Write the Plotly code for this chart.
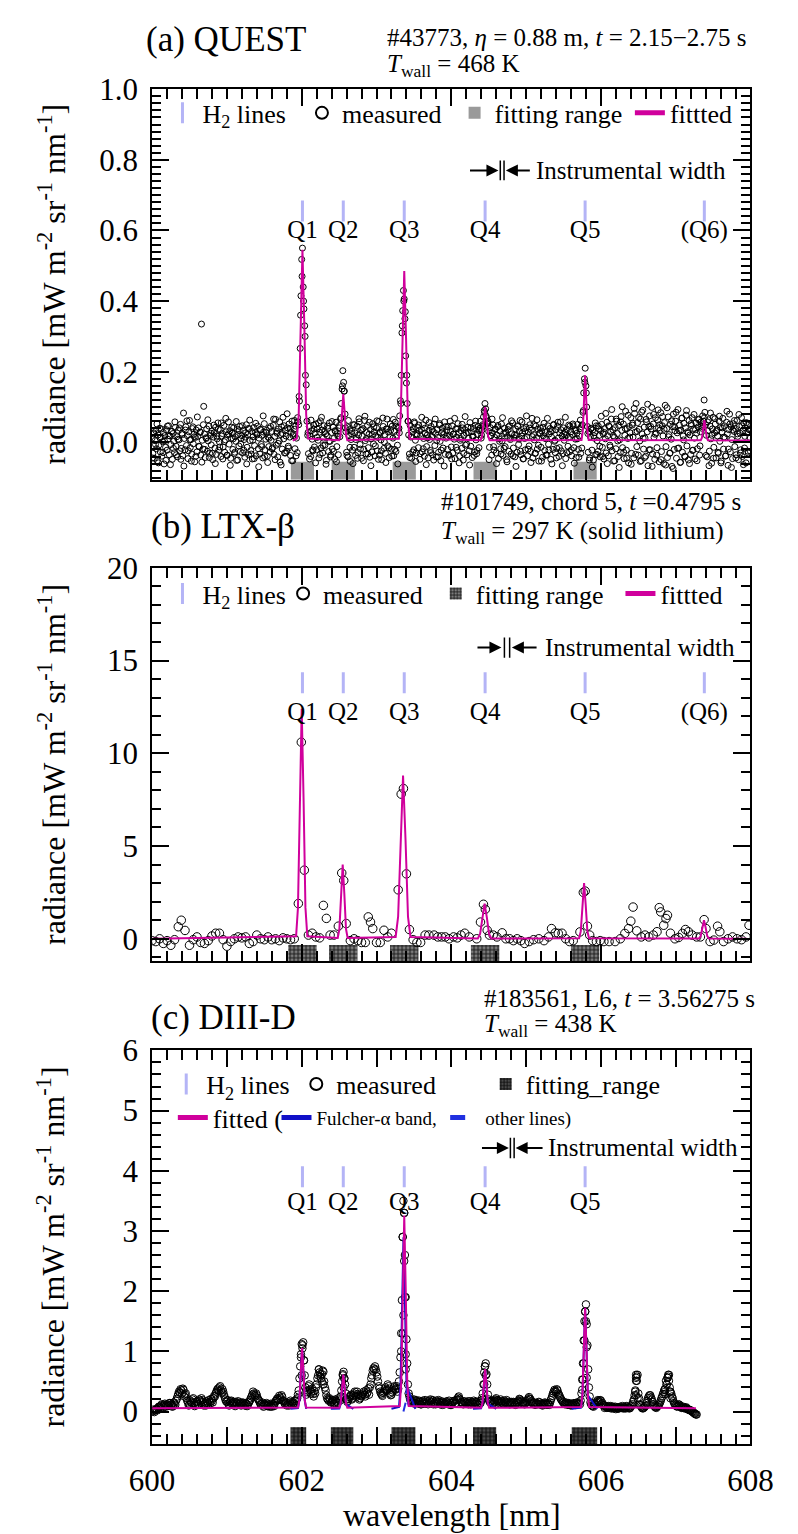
import plotly.graph_objects as go

FONT = "Liberation Serif"
W, H = 798, 1534
MAGENTA = "#d0009c"
H2BLUE = "#b4b4f6"
BLUE = "#1010c8"

def px(x):
    return x / W

def py(y):
    return 1 - y / H

# ---------------- shared data ----------------
q_pos = [602.01, 602.556, 603.371, 604.452, 605.789, 607.383]
q_text = ["Q1", "Q2", "Q3", "Q4", "Q5", "(Q6)"]

# ---------------- panel (a) QUEST ----------------
wl_a_start = 600.0
wl_a_step = 0.01
rad_a = [
 0.012,-0.031,0.024,-0.045,0.005,0.033,-0.018,-0.052,0.021,-0.008,0.040,-0.027,0.015,-0.039,0.002,0.028,-0.061,0.019,-0.014,0.036,
 -0.022,0.009,0.047,-0.035,0.018,-0.006,0.031,-0.048,0.025,0.003,-0.029,0.042,-0.011,0.016,-0.041,0.034,0.007,-0.024,0.051,-0.017,
 0.026,-0.038,0.083,0.011,-0.021,0.044,-0.009,0.019,-0.046,0.030,0.062,-0.015,0.008,-0.033,0.039,-0.004,0.023,-0.055,0.014,0.035,
 -0.027,0.017,0.041,-0.012,0.029,-0.036,0.335,0.006,-0.019,0.102,0.024,-0.043,0.013,0.038,-0.025,0.004,0.046,-0.031,0.020,-0.007,
 0.032,-0.049,0.015,0.027,-0.016,0.043,-0.034,0.010,0.055,-0.022,0.001,0.036,-0.040,0.018,0.025,-0.013,0.048,-0.028,0.007,0.030,
 -0.037,0.021,0.058,-0.005,0.033,-0.045,0.012,0.026,-0.020,0.041,-0.032,0.016,0.003,-0.051,0.037,0.022,-0.010,0.045,-0.026,0.011,
 0.019,-0.030,0.034,0.008,-0.042,0.027,0.050,-0.014,0.022,-0.035,0.039,0.005,-0.023,0.031,-0.047,0.016,0.042,-0.009,0.028,-0.038,
 0.024,0.046,-0.018,0.012,-0.033,0.037,-0.006,0.020,-0.044,0.029,0.053,-0.021,0.009,0.034,-0.039,0.015,-0.012,0.040,-0.027,0.006,
 0.031,-0.015,0.048,-0.034,0.017,0.065,-0.008,0.026,-0.041,0.038,0.004,-0.056,0.022,0.044,-0.019,0.071,0.010,-0.030,0.035,0.018,
 -0.025,0.041,-0.011,0.052,0.015,-0.037,0.028,0.060,-0.052,0.024,0.037,-0.018,0.046,0.012,-0.029,0.058,0.050,0.117,0.266,0.415,
 0.518,0.550,0.440,0.378,0.330,0.190,0.163,0.060,0.020,-0.032,0.045,0.018,-0.040,0.033,0.009,-0.024,0.049,-0.013,0.027,0.052,
 -0.021,0.038,0.006,-0.044,0.029,0.061,-0.016,0.035,-0.030,0.012,0.047,-0.008,0.024,-0.051,0.019,0.040,-0.026,0.055,0.003,-0.036,
 0.028,-0.019,0.043,0.011,-0.047,0.032,0.057,-0.012,0.025,-0.035,0.041,0.016,0.066,0.110,0.151,0.203,0.170,0.145,0.080,0.030,
 -0.028,0.044,-0.041,0.019,0.036,-0.054,0.008,0.031,-0.022,0.050,-0.014,0.027,-0.037,0.013,0.046,-0.029,0.021,0.058,-0.006,0.034,
 -0.045,0.017,0.039,-0.020,0.062,0.005,-0.033,0.028,0.048,-0.015,0.023,-0.042,0.036,0.010,-0.027,0.053,-0.004,0.030,-0.038,0.019,
 0.041,-0.024,0.014,0.059,-0.036,0.026,0.007,-0.049,0.033,0.045,-0.017,0.022,-0.031,0.038,0.066,-0.010,0.029,-0.043,0.016,0.035,
 -0.019,0.046,0.012,-0.038,0.031,0.057,-0.026,0.020,-0.008,0.043,0.040,0.075,0.118,0.190,0.310,0.373,0.430,0.406,0.350,0.245,
 0.168,0.110,0.060,0.021,-0.033,0.048,0.015,-0.045,0.029,0.039,-0.021,0.054,0.006,-0.030,0.024,0.042,-0.015,0.033,-0.048,0.018,
 0.037,-0.027,0.050,0.011,-0.039,0.026,0.063,-0.012,0.021,-0.044,0.034,0.008,-0.023,0.045,0.017,-0.035,0.030,0.052,-0.009,0.025,
 -0.041,0.036,0.014,-0.028,0.049,0.003,-0.052,0.027,0.040,-0.016,0.022,0.058,-0.034,0.012,0.035,-0.020,0.044,-0.037,0.019,0.031,
 -0.013,0.047,-0.030,0.024,0.009,-0.046,0.038,0.015,-0.022,0.053,0.028,-0.039,0.006,0.033,-0.017,0.041,-0.050,0.020,0.036,-0.008,
 0.026,-0.035,0.043,0.012,-0.024,0.056,-0.011,0.030,-0.043,0.018,0.039,-0.027,0.048,0.007,-0.032,0.023,0.045,-0.015,0.034,0.060,
 0.012,0.035,0.050,0.072,0.090,0.110,0.095,0.070,0.052,0.060,0.031,-0.014,0.042,0.019,-0.036,0.027,0.049,-0.022,0.014,0.038,
 -0.030,0.021,0.044,-0.046,0.010,0.032,-0.018,0.052,0.004,-0.037,0.025,0.040,-0.012,0.029,-0.049,0.017,0.036,-0.025,0.047,0.008,
 -0.033,0.024,0.055,-0.016,0.013,-0.041,0.038,0.020,-0.028,0.045,-0.006,0.031,0.062,-0.035,0.018,0.027,-0.047,0.039,0.011,-0.021,
 0.043,0.016,-0.038,0.029,-0.010,0.050,-0.026,0.034,0.068,-0.044,0.022,0.007,-0.031,0.046,0.013,-0.019,0.037,-0.053,0.025,0.041,
 -0.014,0.032,-0.042,0.019,0.054,-0.023,0.028,0.010,-0.036,0.047,-0.005,0.024,0.039,-0.048,0.015,0.033,-0.020,0.051,0.003,-0.029,
 0.036,-0.017,0.045,0.012,-0.040,0.027,0.058,-0.024,0.018,-0.032,0.041,0.006,0.029,-0.046,0.021,0.037,-0.011,0.049,-0.027,0.015,
 0.030,-0.038,0.022,0.047,-0.015,0.034,0.009,-0.043,0.026,0.051,-0.020,0.018,0.039,-0.031,0.044,0.050,0.085,0.140,0.180,0.210,
 0.160,0.100,0.045,-0.028,0.030,-0.044,0.016,0.040,-0.022,0.035,-0.050,0.012,0.028,-0.035,0.047,0.005,-0.026,0.038,0.020,-0.041,
 0.033,0.051,-0.014,0.024,-0.047,0.039,0.010,-0.030,0.057,0.019,-0.038,0.045,-0.008,0.029,0.066,-0.024,0.036,-0.053,0.014,0.042,
 -0.018,0.060,0.025,-0.040,0.048,0.007,-0.029,0.073,0.034,-0.015,0.052,-0.046,0.020,0.088,-0.022,0.039,0.011,-0.058,0.045,0.027,
 0.070,-0.031,0.049,0.015,-0.044,0.082,0.029,0.110,-0.012,0.056,-0.036,0.037,0.004,0.066,-0.052,0.024,0.091,-0.019,0.043,0.012,
 -0.039,0.058,0.030,-0.066,0.045,0.075,-0.021,0.038,0.099,-0.033,0.052,0.014,-0.048,0.070,0.026,-0.015,0.063,0.041,-0.055,0.034,
 0.084,-0.026,0.047,0.018,-0.060,0.056,0.105,-0.012,0.039,-0.043,0.072,0.022,-0.031,0.051,0.009,-0.068,0.044,0.080,-0.020,0.033,
 0.060,-0.045,0.027,0.093,-0.016,0.049,-0.057,0.035,0.068,-0.028,0.018,0.054,-0.039,0.041,0.077,-0.010,0.030,-0.050,0.062,0.021,
 -0.034,0.048,0.070,-0.022,0.037,0.012,-0.047,0.055,0.026,-0.018,0.044,0.066,-0.036,0.030,0.058,0.040,0.075,0.060,0.120,0.085,
 0.050,0.020,-0.041,0.033,0.064,-0.025,0.046,0.010,-0.059,0.038,0.071,-0.014,0.027,0.052,-0.044,0.035,0.018,-0.031,0.060,0.003,
 0.042,-0.053,0.029,0.068,-0.019,0.047,0.013,-0.038,0.057,0.024,-0.065,0.036,0.080,-0.027,0.044,0.008,-0.046,0.053,0.031,-0.012,
 0.039,-0.035,0.062,0.017,-0.049,0.045,0.026,-0.021,0.070,-0.040,0.033,0.055,-0.016,0.041,-0.058,0.028,0.049,-0.030,0.036,0.014,
 -0.026,
]
# second exposure, sampled between the first one
wl_a2_start = 600.005
wl_a2_step = 0.02
rad_a2 = [
 -0.044,0.027,-0.006,0.052,-0.058,0.013,0.038,-0.029,0.004,-0.051,0.046,0.019,-0.063,0.031,-0.017,0.058,-0.035,0.009,0.041,-0.048,
 0.022,-0.067,0.035,0.061,-0.024,0.007,-0.053,0.044,0.016,-0.039,0.072,-0.011,0.029,-0.056,0.050,-0.020,0.011,0.064,-0.043,0.026,
 -0.031,0.049,-0.060,0.018,0.037,-0.013,0.055,-0.047,0.002,0.068,-0.036,0.024,-0.065,0.043,0.010,-0.028,0.059,-0.050,0.033,-0.004,
 0.047,-0.022,0.015,-0.061,0.039,0.063,-0.033,0.006,-0.046,0.054,0.021,-0.069,0.036,-0.012,0.075,-0.040,0.028,-0.057,0.012,0.045,
 -0.018,0.066,-0.049,0.031,-0.003,0.058,-0.064,0.025,0.047,-0.030,0.081,-0.016,0.040,-0.052,0.019,0.062,-0.038,0.070,0.130,0.360,
 0.470,0.400,0.300,0.100,0.028,-0.047,0.063,-0.021,0.038,-0.058,0.014,0.055,-0.034,0.071,-0.009,0.030,-0.062,0.046,0.003,-0.041,
 0.059,-0.026,0.033,-0.055,0.017,0.048,0.070,0.160,0.145,0.041,-0.037,0.062,-0.014,0.025,-0.060,0.050,0.008,-0.045,0.067,-0.019,
 0.036,-0.052,0.074,0.011,-0.033,0.057,-0.066,0.022,0.044,-0.010,0.061,-0.048,0.029,-0.024,0.069,0.001,-0.057,0.038,-0.015,0.052,
 -0.039,0.065,-0.020,0.046,-0.061,0.027,0.110,0.330,0.400,0.370,0.190,0.060,-0.043,0.034,-0.027,0.058,-0.054,0.020,0.049,-0.032,
 0.071,-0.018,0.040,-0.063,0.013,0.056,-0.029,0.036,-0.050,0.066,0.005,-0.041,0.053,-0.022,0.030,-0.067,0.045,0.017,-0.035,0.060,
 -0.047,0.023,0.068,-0.014,0.039,-0.058,0.011,0.051,-0.031,0.073,-0.005,0.028,-0.064,0.042,0.015,-0.037,0.060,-0.023,0.034,0.040,
 0.020,0.045,0.085,0.075,0.055,-0.049,0.019,0.066,-0.012,0.037,-0.060,0.048,0.003,-0.033,0.070,-0.017,0.026,-0.055,0.044,0.012,
 0.061,-0.038,0.021,-0.068,0.047,0.009,-0.025,0.058,-0.046,0.032,0.075,-0.019,0.040,-0.057,0.016,0.050,-0.031,0.064,-0.008,0.027,
 -0.053,0.043,0.012,-0.036,0.068,-0.022,0.030,-0.061,0.049,0.006,-0.044,0.057,-0.015,0.036,-0.066,0.024,0.071,-0.029,0.013,0.046,
 -0.021,0.052,-0.059,0.034,0.010,-0.042,0.063,-0.016,0.090,0.170,0.140,0.025,-0.050,0.038,-0.070,0.019,0.055,-0.034,0.046,-0.011,
 0.074,-0.040,0.028,0.082,-0.060,0.047,-0.013,0.093,0.019,-0.052,0.066,0.004,-0.071,0.058,0.101,-0.028,0.039,-0.045,0.077,0.015,
 -0.062,0.054,0.096,-0.034,0.031,0.070,-0.054,0.086,0.012,-0.043,0.065,0.108,-0.021,0.045,-0.068,0.079,0.023,-0.036,0.092,0.050,
 -0.049,0.073,0.037,-0.064,0.098,0.016,-0.030,0.061,-0.074,0.044,0.085,-0.017,0.033,-0.056,0.069,0.007,-0.041,0.090,0.026,-0.060,
 0.053,-0.023,0.079,0.036,-0.052,0.064,-0.010,0.046,0.050,0.070,-0.037,0.058,-0.066,0.083,0.020,-0.045,0.067,0.031,-0.028,0.074,
 -0.058,0.041,0.015,-0.039,0.088,-0.019,0.052,-0.071,0.035,0.062,-0.044,0.024,0.079,-0.030,0.047,-0.063,0.017,0.056,-0.025,0.038,
]
fit_a_x = [601.88,
 601.935, 601.96, 601.985, 602.01, 602.035, 602.06, 602.085,
 602.502, 602.52, 602.538, 602.556, 602.574, 602.592, 602.61,
 603.299, 603.323, 603.347, 603.371, 603.395, 603.419, 603.443,
 604.392, 604.412, 604.432, 604.452, 604.472, 604.492, 604.512,
 605.741, 605.757, 605.773, 605.789, 605.805, 605.821, 605.837,
 607.335, 607.351, 607.367, 607.383, 607.399, 607.415, 607.431,
 608.0]
fit_a_y = [0.005,
 0.011, 0.078, 0.333, 0.545, 0.333, 0.078, 0.011,
 0.006, 0.023, 0.085, 0.137, 0.085, 0.023, 0.006,
 0.010, 0.070, 0.296, 0.485, 0.296, 0.070, 0.010,
 0.006, 0.018, 0.063, 0.100, 0.063, 0.018, 0.006,
 0.007, 0.030, 0.117, 0.190, 0.117, 0.030, 0.007,
 0.006, 0.013, 0.040, 0.063, 0.040, 0.013, 0.006,
 0.005]
range_a_lo = [601.855, 602.401, 603.216, 604.297, 605.634]
range_a_hi = [602.165, 602.711, 603.526, 604.607, 605.944]

# ---------------- panel (b) LTX-beta ----------------
rad_b_x = [600.00,600.05,600.10,600.15,600.20,600.25,600.30,600.35,600.39,600.44,
 600.50,600.55,600.60,600.65,600.70,600.75,600.80,600.85,600.90,600.95,
 601.00,601.05,601.10,601.15,601.20,601.25,601.30,601.35,601.40,601.45,
 601.50,601.55,601.60,601.65,601.70,601.75,601.80,601.85,601.90,601.955,
 601.995,602.035,602.09,602.14,602.19,602.24,602.29,602.33,602.38,602.43,
 602.49,602.535,602.562,602.595,602.65,602.70,602.75,602.80,602.85,602.89,
 602.92,602.95,603.00,603.05,603.10,603.15,603.20,603.29,603.33,603.36,
 603.40,603.44,603.49,603.54,603.59,603.65,603.70,603.77,603.82,603.87,
 603.92,603.97,604.03,604.08,604.13,604.18,604.24,604.34,604.39,604.43,
 604.455,604.48,604.51,604.56,604.61,604.68,604.73,604.78,604.83,604.88,
 604.93,604.98,605.04,605.10,605.17,605.24,605.30,605.34,605.39,605.43,
 605.48,605.53,605.58,605.63,605.72,605.765,605.79,605.82,605.85,605.89,
 605.94,605.99,606.04,606.11,606.19,606.26,606.32,606.37,606.40,606.43,
 606.48,606.54,606.59,606.64,606.70,606.75,606.78,606.80,606.84,606.87,
 606.89,606.93,606.99,607.04,607.09,607.13,607.17,607.22,607.28,607.33,
 607.38,607.405,607.46,607.51,607.56,607.59,607.64,607.70,607.76,607.82,
 607.88,607.94,607.98]
rad_b_y = [-0.10,-0.15,0.00,-0.25,-0.10,-0.35,-0.05,0.65,1.00,0.45,
 -0.35,-0.05,0.10,-0.20,-0.25,-0.10,0.15,0.30,0.30,-0.05,
 -0.40,-0.15,0.00,0.10,0.05,0.10,-0.25,-0.15,0.20,0.00,
 -0.05,0.10,-0.05,0.00,-0.10,0.05,0.00,-0.05,0.00,1.90,
 10.60,3.70,0.20,0.30,0.10,0.05,1.80,1.10,0.20,0.20,
 0.68,3.55,3.14,0.82,-0.10,0.00,-0.10,-0.20,-0.20,1.18,
 0.90,0.55,-0.20,-0.20,0.46,0.10,0.30,2.64,7.80,8.10,
 3.50,0.50,-0.05,-0.20,-0.20,0.20,0.20,0.20,0.10,0.10,
 0.10,0.00,0.10,0.05,0.20,0.30,0.10,0.00,0.90,1.86,
 1.59,0.46,0.20,0.20,0.10,0.32,0.00,0.00,-0.10,0.00,
 -0.10,-0.25,-0.15,-0.05,0.00,-0.10,0.10,0.55,0.32,0.29,
 0.30,0.00,-0.15,-0.10,0.37,2.50,2.57,0.68,0.20,-0.10,
 -0.15,-0.10,-0.15,-0.15,-0.15,0.00,0.29,0.55,0.95,1.71,
 0.43,0.10,0.20,0.10,0.20,0.38,1.68,1.45,0.73,1.09,
 1.27,0.30,0.00,0.07,0.29,0.50,0.38,0.20,0.10,0.10,
 1.03,0.55,-0.15,-0.07,0.68,0.38,-0.15,0.00,0.10,0.00,
 -0.05,0.10,0.73]
fit_b_x = [600.0,
 601.925, 601.95, 601.975, 602.0, 602.025, 602.05, 602.075,
 602.482, 602.504, 602.526, 602.548, 602.570, 602.592, 602.614,
 603.256, 603.289, 603.322, 603.355, 603.388, 603.421, 603.454,
 604.355, 604.385, 604.415, 604.445, 604.475, 604.505, 604.535,
 605.709, 605.731, 605.753, 605.775, 605.797, 605.819, 605.841,
 607.312, 607.334, 607.356, 607.378, 607.400, 607.422, 607.444,
 607.95]
fit_b_y = [0.0,
 0.14, 1.68, 7.52, 12.4, 7.52, 1.68, 0.14,
 0.04, 0.54, 2.43, 4.0, 2.43, 0.54, 0.04,
 0.10, 1.19, 5.34, 8.8, 5.34, 1.19, 0.10,
 0.02, 0.26, 1.15, 1.9, 1.15, 0.26, 0.02,
 0.03, 0.41, 1.82, 3.0, 1.82, 0.41, 0.03,
 0.01, 0.14, 0.61, 1.0, 0.61, 0.14, 0.01,
 0.0]
range_b_lo = [601.82, 602.366, 603.181, 604.262, 605.599]
range_b_hi = [602.20, 602.746, 603.561, 604.642, 605.979]

# ---------------- panel (c) DIII-D ----------------
wl_c_start = 600.0
wl_c_step = 0.02
rad_c = [
 0.00,0.01,0.02,0.04,0.06,0.08,0.10,0.09,0.11,0.08,0.12,0.10,0.14,0.12,0.09,0.13,0.18,0.25,0.33,0.37,
 0.30,0.36,0.28,0.22,0.15,0.12,0.16,0.20,0.14,0.11,0.17,0.13,0.18,0.22,0.16,0.12,0.10,0.15,0.19,0.14,
 0.18,0.22,0.25,0.33,0.38,0.40,0.35,0.37,0.28,0.20,0.16,0.13,0.15,0.18,0.14,0.12,0.16,0.13,0.11,0.15,
 0.12,0.14,0.10,0.13,0.11,0.16,0.22,0.28,0.30,0.25,0.27,0.20,0.15,0.12,0.10,0.13,0.11,0.09,0.12,0.10,
 0.08,0.11,0.14,0.18,0.22,0.26,0.20,0.24,0.17,0.12,0.10,0.13,0.15,0.12,0.16,0.14,0.18,0.22,0.35,0.75,
 1.12,1.15,0.60,0.28,0.35,0.45,0.30,0.38,0.25,0.30,0.45,0.60,0.65,0.55,0.68,0.50,0.35,0.22,0.18,0.20,
 0.16,0.19,0.14,0.17,0.15,0.20,0.25,0.50,0.66,0.45,0.20,0.18,0.24,0.28,0.22,0.30,0.26,0.33,0.27,0.22,
 0.25,0.30,0.28,0.35,0.32,0.28,0.45,0.60,0.72,0.75,0.65,0.50,0.38,0.30,0.26,0.33,0.40,0.36,0.42,0.30,
 0.28,0.35,0.42,0.38,0.33,0.50,0.90,1.85,3.50,2.60,1.20,0.45,0.25,0.18,0.15,0.20,0.14,0.17,0.13,0.16,
 0.12,0.18,0.15,0.13,0.17,0.14,0.20,0.16,0.12,0.15,0.18,0.13,0.16,0.14,0.11,0.15,0.13,0.17,0.12,0.14,
 0.11,0.15,0.18,0.14,0.20,0.25,0.19,0.15,0.12,0.16,0.13,0.17,0.14,0.12,0.15,0.18,0.13,0.16,0.12,0.15,
 0.18,0.30,0.65,0.80,0.45,0.20,0.15,0.18,0.13,0.16,0.22,0.18,0.14,0.20,0.17,0.13,0.15,0.19,0.14,0.12,
 0.16,0.13,0.15,0.11,0.14,0.18,0.20,0.16,0.13,0.12,0.15,0.19,0.24,0.20,0.15,0.13,0.11,0.14,0.12,0.15,
 0.13,0.10,0.12,0.14,0.11,0.13,0.15,0.22,0.30,0.36,0.32,0.35,0.28,0.22,0.18,0.15,0.12,0.14,0.11,0.13,
 0.10,0.12,0.14,0.11,0.15,0.13,0.12,0.30,0.80,1.50,1.78,1.10,0.40,0.15,0.10,0.08,0.11,0.15,0.19,0.17,
 0.18,0.14,0.10,0.08,0.06,0.09,0.07,0.05,0.08,0.06,0.04,0.07,0.05,0.08,0.06,0.05,0.07,0.09,0.06,0.05,
 0.08,0.12,0.20,0.35,0.58,0.30,0.12,0.08,0.05,0.07,0.10,0.18,0.25,0.27,0.20,0.12,0.08,0.06,0.09,0.12,
 0.18,0.25,0.32,0.38,0.45,0.58,0.40,0.30,0.22,0.14,0.10,0.08,0.12,0.09,0.06,0.08,0.05,0.07,0.04,0.03,
 0.02,0.00,-0.02,-0.04,-0.05,
]
wl_c2_start = 600.01
wl_c2_step = 0.02
rad_c2 = [
 0.03,-0.01,0.04,0.02,0.08,0.05,0.12,0.07,0.13,0.10,0.09,0.14,0.11,0.08,0.15,0.11,0.21,0.29,0.31,0.35,
 0.38,0.25,0.30,0.18,0.10,0.18,0.14,0.22,0.09,0.16,0.12,0.20,0.15,0.19,0.10,0.14,0.17,0.12,0.16,0.21,
 0.15,0.26,0.30,0.36,0.34,0.42,0.31,0.33,0.24,0.17,0.19,0.10,0.17,0.13,0.16,0.09,0.14,0.17,0.13,0.10,
 0.15,0.11,0.14,0.09,0.15,0.19,0.25,0.33,0.27,0.30,0.22,0.18,0.12,0.15,0.08,0.12,0.14,0.10,0.08,0.13,
 0.12,0.09,0.17,0.21,0.19,0.23,0.27,0.18,0.14,0.15,0.12,0.10,0.18,0.14,0.13,0.17,0.20,0.28,0.55,0.95,
 1.05,0.85,0.40,0.32,0.42,0.36,0.33,0.29,0.34,0.40,0.55,0.70,0.58,0.62,0.45,0.40,0.27,0.20,0.22,0.15,
 0.18,0.13,0.20,0.14,0.22,0.18,0.35,0.62,0.55,0.30,0.16,0.21,0.26,0.20,0.27,0.33,0.24,0.29,0.20,0.26,
 0.28,0.33,0.25,0.30,0.38,0.40,0.55,0.68,0.70,0.70,0.58,0.42,0.33,0.28,0.31,0.37,0.34,0.45,0.38,0.27,
 0.32,0.40,0.36,0.42,0.38,0.65,1.30,2.90,3.30,1.90,0.80,0.30,0.20,0.16,0.18,0.13,0.19,0.15,0.18,0.12,
 0.16,0.13,0.19,0.15,0.12,0.18,0.15,0.19,0.14,0.12,0.16,0.19,0.12,0.17,0.15,0.12,0.16,0.14,0.18,0.11,
 0.14,0.17,0.13,0.19,0.23,0.21,0.16,0.13,0.17,0.14,0.15,0.12,0.17,0.15,0.13,0.16,0.15,0.12,0.17,0.14,
 0.22,0.45,0.75,0.62,0.28,0.17,0.16,0.14,0.18,0.20,0.19,0.16,0.17,0.15,0.14,0.18,0.16,0.13,0.16,0.14,
 0.14,0.16,0.12,0.15,0.16,0.21,0.18,0.14,0.15,0.14,0.17,0.22,0.21,0.17,0.13,0.15,0.12,0.13,0.16,0.12,
 0.11,0.13,0.15,0.12,0.14,0.11,0.19,0.26,0.33,0.34,0.37,0.30,0.25,0.20,0.16,0.13,0.15,0.12,0.14,0.11,
 0.13,0.11,0.12,0.14,0.12,0.15,0.18,0.53,1.18,1.66,1.45,0.70,0.25,0.12,0.09,0.12,0.13,0.17,0.16,0.19,
 0.12,0.11,0.06,0.09,0.07,0.06,0.09,0.07,0.05,0.08,0.06,0.05,0.07,0.06,0.09,0.06,0.05,0.08,0.07,0.06,
 0.10,0.16,0.27,0.51,0.61,0.22,0.10,0.06,0.06,0.09,0.14,0.22,0.27,0.23,0.16,0.10,0.07,0.08,0.11,0.15,
 0.22,0.29,0.36,0.51,0.56,0.61,0.33,0.25,0.17,0.12,0.09,0.10,0.11,0.07,0.07,0.06,0.06,0.05,0.03,0.02,
 0.01,-0.01,-0.03,-0.05,
]
# additional frames around the strong lines
rad_c_extra_x = [601.99, 602.01, 602.03, 602.00, 602.23, 602.25, 602.27, 602.29,
 602.55, 602.57, 602.56, 603.35, 603.37, 603.37, 603.36, 603.38, 603.35, 603.39, 603.33, 603.39,
 604.45, 604.46, 604.44, 605.79, 605.80, 605.78, 605.81, 605.77, 605.76, 605.81, 605.75,
 606.47, 606.47, 606.48, 606.46, 606.47, 606.49, 606.90, 606.89, 606.91, 606.88, 606.85, 606.86, 606.92, 606.93]
rad_c_extra_y = [0.90, 1.10, 0.85, 0.60, 0.70, 0.62, 0.50, 0.66,
 0.60, 0.55, 0.40, 2.90, 3.30, 2.50, 1.60, 1.90, 1.30, 0.95, 1.00, 0.70,
 0.75, 0.60, 0.45, 1.66, 1.50, 1.18, 1.07, 0.80, 0.53, 0.56, 0.36,
 0.61, 0.56, 0.51, 0.33, 0.27, 0.22, 0.61, 0.56, 0.51, 0.45, 0.36, 0.29, 0.33, 0.22]
fit_c_x = [600.0,
 601.951, 601.969, 601.987, 602.005, 602.023, 602.041, 602.059,
 602.502, 602.520, 602.538, 602.556, 602.574, 602.592, 602.610,
 603.311, 603.331, 603.351, 603.371, 603.391, 603.411, 603.431,
 604.398, 604.416, 604.434, 604.452, 604.470, 604.488, 604.506,
 605.735, 605.753, 605.771, 605.789, 605.807, 605.825, 605.843,
 607.27]
fit_c_y = [0.055,
 0.066, 0.190, 0.662, 1.055, 0.662, 0.190, 0.066,
 0.061, 0.131, 0.395, 0.615, 0.395, 0.131, 0.061,
 0.090, 0.487, 1.997, 3.255, 1.997, 0.487, 0.090,
 0.062, 0.143, 0.450, 0.705, 0.450, 0.143, 0.062,
 0.073, 0.280, 1.069, 1.725, 1.069, 0.280, 0.073,
 0.055]
# Fulcher-alpha component, drawn over each fitting range only (None = gap)
fulcher_c_x = [601.85, 601.951, 601.969, 601.987, 602.005, 602.023, 602.041, 602.06, None,
 602.39, 602.502, 602.520, 602.538, 602.556, 602.574, 602.592, 602.69, None,
 603.20, 603.301, 603.321, 603.341, 603.361, 603.381, 603.401, 603.52, None,
 604.29, 604.398, 604.416, 604.434, 604.452, 604.470, 604.488, 604.60, None,
 605.61, 605.735, 605.753, 605.771, 605.789, 605.807, 605.825, 605.95]
fulcher_c_y = [0.045, 0.056, 0.180, 0.652, 1.045, 0.652, 0.180, 0.045, None,
 0.045, 0.051, 0.121, 0.385, 0.605, 0.385, 0.121, 0.045, None,
 0.045, 0.076, 0.430, 1.775, 2.895, 1.775, 0.430, 0.045, None,
 0.045, 0.052, 0.133, 0.440, 0.695, 0.440, 0.133, 0.045, None,
 0.045, 0.063, 0.270, 1.059, 1.715, 1.059, 0.270, 0.045]
other_c_x = [603.36, 603.39, 603.405, 603.42, 603.45]
other_c_y = [0.0, 0.15, 0.42, 0.15, 0.0]
range_c_lo = [601.85, 602.39, 603.20, 604.29, 605.61]
range_c_hi = [602.06, 602.69, 603.52, 604.60, 605.95]

# x tick levels
x_tick_1nm = list(range(600, 609))
x_tick_2nm = list(range(600, 609, 2))

# ---------------- figure ----------------
fig = go.Figure()

XDOM = [px(137), px(772)]
panels = [
    dict(ax="", ox="4", yr=[-0.106, 1.0], dom=[py(468), py(73)], dtick=0.2, minor=0.02, fmt=".1f",
         rbot=-0.106, rtop=-0.055, rcol="#9a9a9a", pat=None,
         ymark=0.655, ylab=0.597, nq=6),
    dict(ax="2", ox="5", yr=[-1.22, 20], dom=[py(955), py(557)], dtick=5, minor=1, fmt="d",
         rbot=-1.22, rtop=-0.34, rcol="#7c7c7c", pat="#1c1c1c",
         ymark=13.8, ylab=12.15, nq=6),
    dict(ax="3", ox="6", yr=[-0.54, 6], dom=[py(1443), py(1045)], dtick=1, minor=0.2, fmt="d",
         rbot=-0.54, rtop=-0.26, rcol="#4a4a4a", pat="#0c0c0c",
         ymark=3.9, ylab=3.45, nq=5),
]

def leg(i):
    return "legend" if i == 1 else "legend%d" % i

meas = [
    ([wl_a_start + wl_a_step * i for i in range(len(rad_a))]
     + [wl_a2_start + wl_a2_step * i for i in range(len(rad_a2))], rad_a + rad_a2, 6),
    (rad_b_x, rad_b_y, 8.5),
    ([wl_c_start + wl_c_step * i for i in range(len(rad_c))]
     + [wl_c2_start + wl_c2_step * i for i in range(len(rad_c2))] + rad_c_extra_x,
     rad_c + rad_c2 + rad_c_extra_y, 7.5),
]
fits = [(fit_a_x, fit_a_y), (fit_b_x, fit_b_y), (fit_c_x, fit_c_y)]
ranges = [(range_a_lo, range_a_hi), (range_b_lo, range_b_hi), (range_c_lo, range_c_hi)]
names = [
    ["H<sub>2</sub> lines", "measured", "fitting range", "fittted"],
    ["H<sub>2</sub> lines", "measured", "fitting range", "fittted"],
    ["H<sub>2</sub> lines", "measured", "fitting_range", "fitted ("],
]
leg_ids = [[1, 2, 3, 4], [5, 6, 7, 8], [9, 10, 11, 12]]

for k, p in enumerate(panels):
    xa = "x" + p["ax"]
    ya = "y" + p["ax"]
    lo, hi = ranges[k]
    cen = [(a + b) / 2 for a, b in zip(lo, hi)]
    wid = [b - a for a, b in zip(lo, hi)]
    mk = dict(color=p["rcol"], line=dict(width=0))
    if p["pat"]:
        mk["pattern"] = dict(shape="+", size=4, solidity=0.45, fgcolor=p["pat"],
                             bgcolor=p["rcol"], fillmode="replace")
    fig.add_trace(go.Bar(x=cen, y=[p["rtop"] - p["rbot"]] * len(cen), base=[p["rbot"]] * len(cen),
                         width=wid, marker=mk, name=names[k][2], legend=leg(leg_ids[k][2]),
                         xaxis=xa, yaxis=ya, hoverinfo="skip"))
    mx, my, ms = meas[k]
    fig.add_trace(go.Scatter(x=mx, y=my, mode="markers",
                             marker=dict(symbol="circle-open", size=ms, color="black",
                                         line=dict(width=1, color="black")),
                             name=names[k][1], legend=leg(leg_ids[k][1]), xaxis=xa, yaxis=ya))
    if k == 2:
        fig.add_trace(go.Scatter(x=fulcher_c_x, y=fulcher_c_y, mode="lines",
                                 line=dict(color=BLUE, width=2), connectgaps=False,
                                 name="<span style='font-size:19px'>Fulcher-α band,</span>",
                                 legend=leg(13), xaxis=xa, yaxis=ya))
        fig.add_trace(go.Scatter(x=other_c_x, y=other_c_y, mode="lines",
                                 line=dict(color="#2030e0", width=2, dash="dash"),
                                 name="<span style='font-size:19px'>other lines)</span>",
                                 legend=leg(14), xaxis=xa, yaxis=ya))
    fx, fy = fits[k]
    fig.add_trace(go.Scatter(x=fx, y=fy, mode="lines", line=dict(color=MAGENTA, width=2),
                             name=names[k][3], legend=leg(leg_ids[k][3]), xaxis=xa, yaxis=ya))
    nq = p["nq"]
    fig.add_trace(go.Scatter(x=q_pos[:nq], y=[p["ymark"]] * nq, mode="markers",
                             marker=dict(symbol="line-ns", size=15,
                                         line=dict(width=3, color=H2BLUE)),
                             name=names[k][0], legend=leg(leg_ids[k][0]), xaxis=xa, yaxis=ya))
    fig.add_trace(go.Scatter(x=q_pos[:nq], y=[p["ylab"]] * nq, mode="text", text=q_text[:nq],
                             textfont=dict(family=FONT, size=25, color="black"),
                             showlegend=False, xaxis=xa, yaxis=ya, hoverinfo="skip"))

axis_common = dict(showline=True, linecolor="black", linewidth=2, mirror="allticks",
                   ticks="inside", tickcolor="black", showgrid=False, zeroline=False)
layout = dict(width=W, height=H, margin=dict(l=0, r=0, t=0, b=0),
              paper_bgcolor="white", plot_bgcolor="white", showlegend=True,
              font=dict(family=FONT, color="black"))
for k, p in enumerate(panels):
    xa = "xaxis" + p["ax"]
    ya = "yaxis" + p["ax"]
    layout[xa] = dict(axis_common, domain=XDOM, range=[600, 608], anchor="y" + p["ax"],
                      tickmode="array", tickvals=x_tick_1nm,
                      ticktext=["600", "", "602", "", "604", "", "606", "", "608"],
                      ticklen=17, tickwidth=2, showticklabels=(k == 2),
                      tickfont=dict(family=FONT, size=31), ticklabelstandoff=8,
                      minor=dict(dtick=0.2, tick0=600, ticks="inside", ticklen=10,
                                 tickwidth=1.5, tickcolor="black"))
    # overlay axis carrying the longer 2-nm ticks
    layout["xaxis" + p["ox"]] = dict(domain=XDOM, range=[600, 608], anchor="y" + p["ax"],
                                     overlaying="x" + p["ax"], side="bottom",
                                     tickmode="array", tickvals=x_tick_2nm, ticks="inside",
                                     ticklen=24, tickwidth=2, tickcolor="black", mirror="allticks",
                                     showline=False, showticklabels=False, showgrid=False,
                                     zeroline=False)
    layout[ya] = dict(axis_common, domain=p["dom"], range=p["yr"], anchor="x" + p["ax"],
                      tick0=0, dtick=p["dtick"], ticklen=17, tickwidth=2,
                      tickformat=p["fmt"], tickfont=dict(family=FONT, size=31),
                      ticklabelstandoff=6,
                      minor=dict(dtick=p["minor"], tick0=0, ticks="inside", ticklen=9,
                                 tickwidth=1.5, tickcolor="black"))

# legends, one per entry: (id, text start px, row centre px, font size, itemsizing)
leg_pos = [
    (1, 188, 97, 26, "trace"), (2, 336, 97, 26, "constant"), (3, 498, 97, 26, "constant"), (4, 684, 97, 26, "constant"),
    (5, 188, 583, 26, "trace"), (6, 316, 583, 26, "constant"), (7, 478, 583, 26, "constant"), (8, 674, 583, 26, "constant"),
    (9, 192, 1079, 26, "trace"), (10, 330, 1079, 26, "constant"), (11, 531, 1079, 26, "constant"),
    (12, 199, 1113, 26, "constant"), (13, 309, 1113, 19, "constant"), (14, 488, 1113, 19, "constant"),
]
for lid, xs, yc, fs, isz in leg_pos:
    layout[leg(lid)] = dict(x=px(xs - 40), y=py(yc), xanchor="left", yanchor="middle",
                            orientation="h", bgcolor="rgba(0,0,0,0)", borderwidth=0,
                            font=dict(family=FONT, size=fs, color="black"),
                            itemsizing=isz, itemwidth=30, tracegroupgap=0)

fig.update_layout(**layout)

ann = []
shapes = []
# titles and shot information (one annotation per text line)
titles = [("(a) QUEST", 128, 23), ("(b) LTX-β", 134, 515), ("(c) DIII-D", 134, 1012)]
for t, xx, yy in titles:
    ann.append(dict(text=t, x=px(xx), y=py(yy), xref="paper", yref="paper", xanchor="left",
                    yanchor="middle", showarrow=False, font=dict(family=FONT, size=35)))
infos = [
    ("#43773, <i>η</i> = 0.88 m, <i>t</i> = 2.15−2.75 s", 384, 21),
    ("<i>T</i><sub>wall</sub> = 468 K", 384, 49),
    ("#101749, chord 5, <i>t</i> =0.4795 s", 441, 490),
    ("<i>T</i><sub>wall</sub> = 297 K (solid lithium)", 441, 521),
    ("#183561, L6, <i>t</i> = 3.56275 s", 487, 992),
    ("<i>T</i><sub>wall</sub> = 438 K", 487, 1020),
]
for t, xx, yy in infos:
    ann.append(dict(text=t, x=px(xx), y=py(yy), xref="paper", yref="paper", xanchor="left",
                    yanchor="middle", align="left", showarrow=False,
                    font=dict(family=FONT, size=25)))
# axis titles
ytitle = "radiance [mW m<sup>-2</sup> sr<sup>-1</sup> nm<sup>-1</sup>]"
for yc in [(73 + 468) / 2, (557 + 955) / 2, (1045 + 1443) / 2]:
    ann.append(dict(text=ytitle, x=px(30), y=py(yc), xref="paper", yref="paper", textangle=-90,
                    xanchor="center", yanchor="middle", showarrow=False,
                    font=dict(family=FONT, size=32)))
ann.append(dict(text="wavelength [nm]", x=px(455), y=py(1515), xref="paper", yref="paper",
                xanchor="center", yanchor="middle", showarrow=False, font=dict(family=FONT, size=32)))

# instrumental width markers: (axis suffix, y, tailL, headL, line1, line2, headR, tailR, text x, half height)
iw = [
    ("", 0.77, 604.23, 604.63, 604.655, 604.705, 604.73, 605.07, 605.11, 0.028),
    ("2", 15.7, 604.33, 604.67, 604.71, 604.78, 604.81, 605.16, 605.22, 0.55),
    ("3", 4.38, 604.39, 604.77, 604.79, 604.84, 604.86, 605.24, 605.27, 0.17),
]
for a, yy, tl, hl, l1, l2, hr, tr, tx, hh in iw:
    xr, yr = "x" + a, "y" + a
    ann.append(dict(x=hl, y=yy, ax=tl, ay=yy, xref=xr, yref=yr, axref=xr, ayref=yr, text="",
                    showarrow=True, arrowhead=2, arrowsize=1.2, arrowwidth=2, arrowcolor="black"))
    ann.append(dict(x=hr, y=yy, ax=tr, ay=yy, xref=xr, yref=yr, axref=xr, ayref=yr, text="",
                    showarrow=True, arrowhead=2, arrowsize=1.2, arrowwidth=2, arrowcolor="black"))
    for lx in (l1, l2):
        shapes.append(dict(type="line", x0=lx, x1=lx, y0=yy - hh, y1=yy + hh, xref=xr, yref=yr,
                           line=dict(color="black", width=1.5)))
    ann.append(dict(text="Instrumental width", x=tx, y=yy, xref=xr, yref=yr, xanchor="left",
                    yanchor="middle", showarrow=False, font=dict(family=FONT, size=25)))

fig.update_layout(annotations=ann, shapes=shapes)
fig.write_html("out.html")
